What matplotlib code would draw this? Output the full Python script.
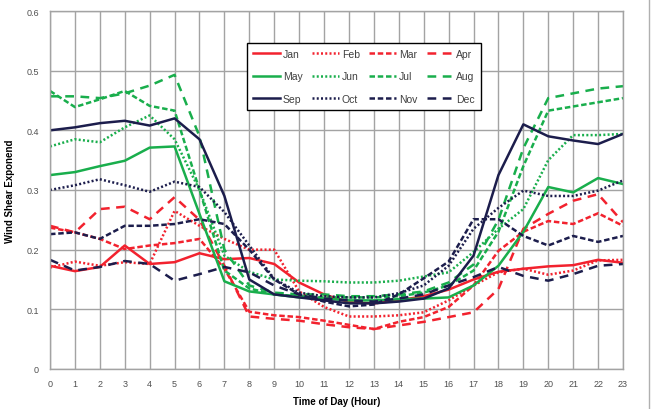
import matplotlib
matplotlib.use("Agg")
import matplotlib.pyplot as plt
from matplotlib.lines import Line2D

plt.rcParams['font.family'] = ['Liberation Sans', 'DejaVu Sans']

# wind shear exponent per hour of day, one list per month
hours = list(range(24))
jan = [0.173, 0.164, 0.171, 0.207, 0.176, 0.179, 0.194, 0.184, 0.186, 0.176, 0.145, 0.125,
       0.112, 0.110, 0.115, 0.122, 0.133, 0.150, 0.163, 0.168, 0.172, 0.174, 0.183, 0.178]
feb = [0.170, 0.180, 0.173, 0.179, 0.176, 0.265, 0.240, 0.218, 0.200, 0.200, 0.130, 0.104,
       0.088, 0.088, 0.090, 0.095, 0.115, 0.140, 0.162, 0.168, 0.158, 0.165, 0.182, 0.183]
mar = [0.237, 0.229, 0.218, 0.201, 0.207, 0.211, 0.218, 0.168, 0.096, 0.090, 0.087, 0.081,
       0.074, 0.067, 0.079, 0.087, 0.104, 0.140, 0.198, 0.230, 0.248, 0.243, 0.261, 0.240]
apr = [0.240, 0.229, 0.268, 0.272, 0.251, 0.288, 0.250, 0.173, 0.088, 0.084, 0.081, 0.075,
       0.070, 0.067, 0.073, 0.079, 0.087, 0.095, 0.134, 0.235, 0.260, 0.282, 0.293, 0.246]
may = [0.325, 0.330, 0.340, 0.349, 0.371, 0.373, 0.260, 0.147, 0.130, 0.125, 0.120, 0.118,
       0.115, 0.115, 0.117, 0.118, 0.120, 0.140, 0.173, 0.230, 0.305, 0.296, 0.320, 0.310]
jun = [0.373, 0.385, 0.380, 0.405, 0.425, 0.385, 0.300, 0.190, 0.163, 0.150, 0.148, 0.147,
       0.145, 0.145, 0.148, 0.155, 0.162, 0.196, 0.235, 0.268, 0.350, 0.392, 0.392, 0.394]
jul = [0.466, 0.439, 0.452, 0.466, 0.441, 0.433, 0.300, 0.165, 0.135, 0.125, 0.122, 0.120,
       0.120, 0.120, 0.122, 0.128, 0.140, 0.165, 0.230, 0.340, 0.433, 0.440, 0.447, 0.454]
aug = [0.457, 0.457, 0.454, 0.462, 0.475, 0.493, 0.390, 0.200, 0.140, 0.128, 0.125, 0.125,
       0.122, 0.122, 0.125, 0.130, 0.145, 0.175, 0.250, 0.370, 0.454, 0.462, 0.470, 0.474]
sep = [0.400, 0.405, 0.412, 0.416, 0.408, 0.420, 0.385, 0.290, 0.150, 0.125, 0.120, 0.115,
       0.110, 0.110, 0.113, 0.118, 0.135, 0.190, 0.325, 0.410, 0.390, 0.383, 0.377, 0.394]
oct_ = [0.300, 0.308, 0.318, 0.308, 0.297, 0.314, 0.305, 0.263, 0.207, 0.151, 0.128, 0.122,
        0.120, 0.120, 0.127, 0.140, 0.173, 0.235, 0.270, 0.299, 0.290, 0.290, 0.299, 0.316]
nov = [0.226, 0.229, 0.218, 0.240, 0.240, 0.243, 0.251, 0.243, 0.200, 0.150, 0.125, 0.113,
       0.105, 0.108, 0.125, 0.152, 0.180, 0.251, 0.251, 0.223, 0.207, 0.223, 0.213, 0.223]
dec = [0.183, 0.165, 0.171, 0.181, 0.176, 0.148, 0.159, 0.171, 0.162, 0.140, 0.125, 0.118,
       0.115, 0.113, 0.118, 0.125, 0.140, 0.154, 0.171, 0.156, 0.148, 0.159, 0.173, 0.176]

months = ['Jan', 'Feb', 'Mar', 'Apr', 'May', 'Jun', 'Jul', 'Aug', 'Sep', 'Oct', 'Nov', 'Dec']
series = [jan, feb, mar, apr, may, jun, jul, aug, sep, oct_, nov, dec]

red, green, navy = '#f2222e', '#19ae4c', '#1c1d4c'
colors = [red] * 4 + [green] * 4 + [navy] * 4
styles = ['-', (0, (0.8, 0.9)), (0, (2.2, 1.1)), (0, (3.5, 2.6))] * 3

fig = plt.figure(figsize=(6.52, 4.10), dpi=100)
ax = fig.add_axes([50 / 652, 1 - 370 / 410, 573 / 652, 358 / 410])

handles = {}
for name, vals, c, ls in zip(months, series, colors, styles):
    ln, = ax.plot(hours, vals, color=c, linestyle=ls, linewidth=1.8, label=name)
    handles[name] = ln

ax.set_xlim(0, 23)
ax.set_ylim(0, 0.6)
ax.set_xticks(hours)
ax.set_yticks([0, 0.1, 0.2, 0.3, 0.4, 0.5, 0.6])
ax.set_yticklabels(['0', '0.1', '0.2', '0.3', '0.4', '0.5', '0.6'])
ax.tick_params(length=0, labelsize=6.5, colors='#505050')
ax.tick_params(axis='x', pad=7)
ax.tick_params(axis='y', pad=8)
ax.grid(True, color='#a3a3a3', linewidth=1)
ax.set_axisbelow(True)
for sp in ax.spines.values():
    sp.set_color('#a3a3a3')
    sp.set_linewidth(1)

ax.set_xlabel('Time of Day (Hour)', fontsize=7, fontweight='bold', labelpad=6)
ax.set_ylabel('Wind Shear Exponend', fontsize=7, fontweight='bold', labelpad=8)

# legend fills column-wise, so order it to read Jan..Apr across the first row
order = ['Jan', 'May', 'Sep', 'Feb', 'Jun', 'Oct', 'Mar', 'Jul', 'Nov', 'Apr', 'Aug', 'Dec']
leg = ax.legend([handles[m] for m in order], order, ncol=4, loc='upper center',
                bbox_to_anchor=(0.548, 0.925), fontsize=7.5, frameon=True, fancybox=False,
                edgecolor='black', framealpha=1, handlelength=2.6, handletextpad=0.25,
                columnspacing=0.9, labelspacing=1.2, borderpad=0.55)
leg.get_frame().set_linewidth(1)
for t in leg.get_texts():
    t.set_color('#404040')

fig.add_artist(Line2D([649 / 652, 649 / 652], [0, 1], color='#b0b0b0', linewidth=1))

fig.savefig('out.png', dpi=100)
